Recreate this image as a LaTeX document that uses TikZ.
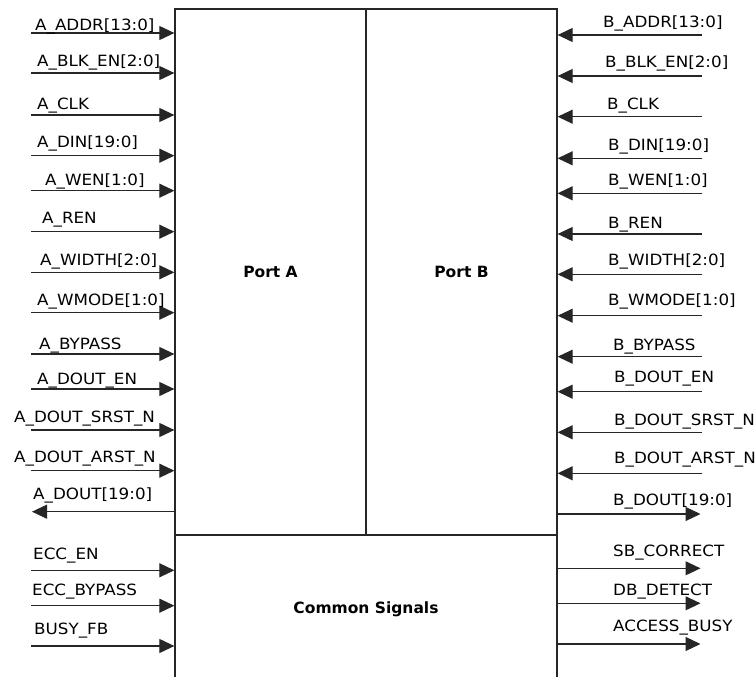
\documentclass[tikz,border=0pt]{standalone}
\usepackage{fontspec}
\setmainfont{DejaVu Sans}
\newfontfamily\sigfont[FakeStretch=1.08]{DejaVu Sans}
\usepackage{tikz}
\usetikzlibrary{arrows.meta, positioning}

\begin{document}
\begin{tikzpicture}[x=1pt, y=-1pt,
        block/.style={rectangle, draw=black!85, line width=1.3pt, inner sep=0pt, font=\fontsize{15.5}{18}\selectfont\bfseries},
        sig/.style={draw=black!85, line width=1.1pt, -{Triangle[length=15pt, width=14pt]}},
        lbl/.style={anchor=base west, inner sep=0pt, font=\sigfont\fontsize{15.5}{18}\selectfont}
    ]
        \useasboundingbox (0,0) rectangle (756,677);
        \clip (0,0) rectangle (756,677);

        % ================= BLOCK =================
        \node[block, minimum width=191pt, minimum height=526pt] (portA) at (270.5,272) {Port A};
        \node[block, minimum width=191pt, minimum height=526pt] (portB) at (461.5,272) {Port B};
        % bottom edge lies below the page
        \node[block, minimum width=382pt, minimum height=150pt] (common) at (366,610) {\raisebox{4pt}{Common Signals}};

        % ================= PORT A =================
        \coordinate (a_addr) at (31,33);
        \coordinate (a_blk_en) at (31,73);
        \coordinate (a_clk) at (31,115);
        \coordinate (a_din) at (31,155.7);
        \coordinate (a_wen) at (31,190.7);
        \coordinate (a_ren) at (31,231.7);
        \coordinate (a_width) at (31,272.3);
        \coordinate (a_wmode) at (31,312.7);
        \coordinate (a_bypass) at (31,354);
        \coordinate (a_dout_en) at (31,389);
        \coordinate (a_dout_srst) at (31,430);
        \coordinate (a_dout_arst) at (31,470.7);
        \coordinate (a_dout) at (32,511.7);

        \draw[sig] (a_addr) -- (a_addr -| portA.west);
        \draw[sig] (a_blk_en) -- (a_blk_en -| portA.west);
        \draw[sig] (a_clk) -- (a_clk -| portA.west);
        \draw[sig] (a_din) -- (a_din -| portA.west);
        \draw[sig] (a_wen) -- (a_wen -| portA.west);
        \draw[sig] (a_ren) -- (a_ren -| portA.west);
        \draw[sig] (a_width) -- (a_width -| portA.west);
        \draw[sig] (a_wmode) -- (a_wmode -| portA.west);
        \draw[sig] (a_bypass) -- (a_bypass -| portA.west);
        \draw[sig] (a_dout_en) -- (a_dout_en -| portA.west);
        \draw[sig] (a_dout_srst) -- (a_dout_srst -| portA.west);
        \draw[sig] (a_dout_arst) -- (a_dout_arst -| portA.west);
        \draw[sig] (a_dout -| portA.west) -- (a_dout);

        \node[lbl] (a_addr_l) at (35,31) {A\_ADDR[13:0]};
        \node[lbl] (a_blk_en_l) at (37,67) {A\_BLK\_EN[2:0]};
        \node[lbl] (a_clk_l) at (37,110) {A\_CLK};
        \node[lbl] (a_din_l) at (37,147) {A\_DIN[19:0]};
        \node[lbl] (a_wen_l) at (45,185) {A\_WEN[1:0]};
        \node[lbl] (a_ren_l) at (42,223) {A\_REN};
        \node[lbl] (a_width_l) at (40,265) {A\_WIDTH[2:0]};
        \node[lbl] (a_wmode_l) at (37,305) {A\_WMODE[1:0]};
        \node[lbl] (a_bypass_l) at (39,349) {A\_BYPASS};
        \node[lbl] (a_dout_en_l) at (37,384) {A\_DOUT\_EN};
        \node[lbl] (a_dout_srst_l) at (14,422) {A\_DOUT\_SRST\_N};
        \node[lbl] (a_dout_arst_l) at (14,462) {A\_DOUT\_ARST\_N};
        \node[lbl] (a_dout_l) at (33,499) {A\_DOUT[19:0]};

        % ================= PORT B =================
        \coordinate (b_addr) at (702,35);
        \coordinate (b_blk_en) at (702,76);
        \coordinate (b_clk) at (702,116.7);
        \coordinate (b_din) at (702,158.3);
        \coordinate (b_wen) at (702,193.3);
        \coordinate (b_ren) at (702,234);
        \coordinate (b_width) at (702,274.3);
        \coordinate (b_wmode) at (702,315.7);
        \coordinate (b_bypass) at (702,356.7);
        \coordinate (b_dout_en) at (702,391.7);
        \coordinate (b_dout_srst) at (702,432.3);
        \coordinate (b_dout_arst) at (702,473.3);
        \coordinate (b_dout) at (700.5,514);

        \draw[sig] (b_addr) -- (b_addr -| portB.east);
        \draw[sig] (b_blk_en) -- (b_blk_en -| portB.east);
        \draw[sig] (b_clk) -- (b_clk -| portB.east);
        \draw[sig] (b_din) -- (b_din -| portB.east);
        \draw[sig] (b_wen) -- (b_wen -| portB.east);
        \draw[sig] (b_ren) -- (b_ren -| portB.east);
        \draw[sig] (b_width) -- (b_width -| portB.east);
        \draw[sig] (b_wmode) -- (b_wmode -| portB.east);
        \draw[sig] (b_bypass) -- (b_bypass -| portB.east);
        \draw[sig] (b_dout_en) -- (b_dout_en -| portB.east);
        \draw[sig] (b_dout_srst) -- (b_dout_srst -| portB.east);
        \draw[sig] (b_dout_arst) -- (b_dout_arst -| portB.east);
        \draw[sig] (b_dout -| portB.east) -- (b_dout);

        \node[lbl] (b_addr_l) at (603,28) {B\_ADDR[13:0]};
        \node[lbl] (b_blk_en_l) at (605,68) {B\_BLK\_EN[2:0]};
        \node[lbl] (b_clk_l) at (607,110) {B\_CLK};
        \node[lbl] (b_din_l) at (608,150) {B\_DIN[19:0]};
        \node[lbl] (b_wen_l) at (608,185) {B\_WEN[1:0]};
        \node[lbl] (b_ren_l) at (608,228) {B\_REN};
        \node[lbl] (b_width_l) at (608,265) {B\_WIDTH[2:0]};
        \node[lbl] (b_wmode_l) at (608,305) {B\_WMODE[1:0]};
        \node[lbl] (b_bypass_l) at (613,350) {B\_BYPASS};
        \node[lbl] (b_dout_en_l) at (614,382) {B\_DOUT\_EN};
        \node[lbl] (b_dout_srst_l) at (614,425) {B\_DOUT\_SRST\_N};
        \node[lbl] (b_dout_arst_l) at (614,463) {B\_DOUT\_ARST\_N};
        \node[lbl] (b_dout_l) at (613,505) {B\_DOUT[19:0]};

        % ================= COMMON =================
        \coordinate (ecc_en) at (31,570.3);
        \coordinate (ecc_bypass) at (31,605.7);
        \coordinate (busy_fb) at (31,646);
        \coordinate (sb_correct) at (700.5,568.3);
        \coordinate (db_detect) at (700.5,603.3);
        \coordinate (access_busy) at (700.5,644);

        \draw[sig] (ecc_en) -- (ecc_en -| common.west);
        \draw[sig] (ecc_bypass) -- (ecc_bypass -| common.west);
        \draw[sig] (busy_fb) -- (busy_fb -| common.west);
        \draw[sig] (sb_correct -| common.east) -- (sb_correct);
        \draw[sig] (db_detect -| common.east) -- (db_detect);
        \draw[sig] (access_busy -| common.east) -- (access_busy);

        \node[lbl] (ecc_en_l) at (33,559) {ECC\_EN};
        \node[lbl] (ecc_bypass_l) at (32,595) {ECC\_BYPASS};
        \node[lbl] (busy_fb_l) at (34,634) {BUSY\_FB};
        \node[lbl] (sb_correct_l) at (613,556) {SB\_CORRECT};
        \node[lbl] (db_detect_l) at (613,595) {DB\_DETECT};
        \node[lbl] (access_busy_l) at (613,631) {ACCESS\_BUSY};
    \end{tikzpicture}
\end{document}
